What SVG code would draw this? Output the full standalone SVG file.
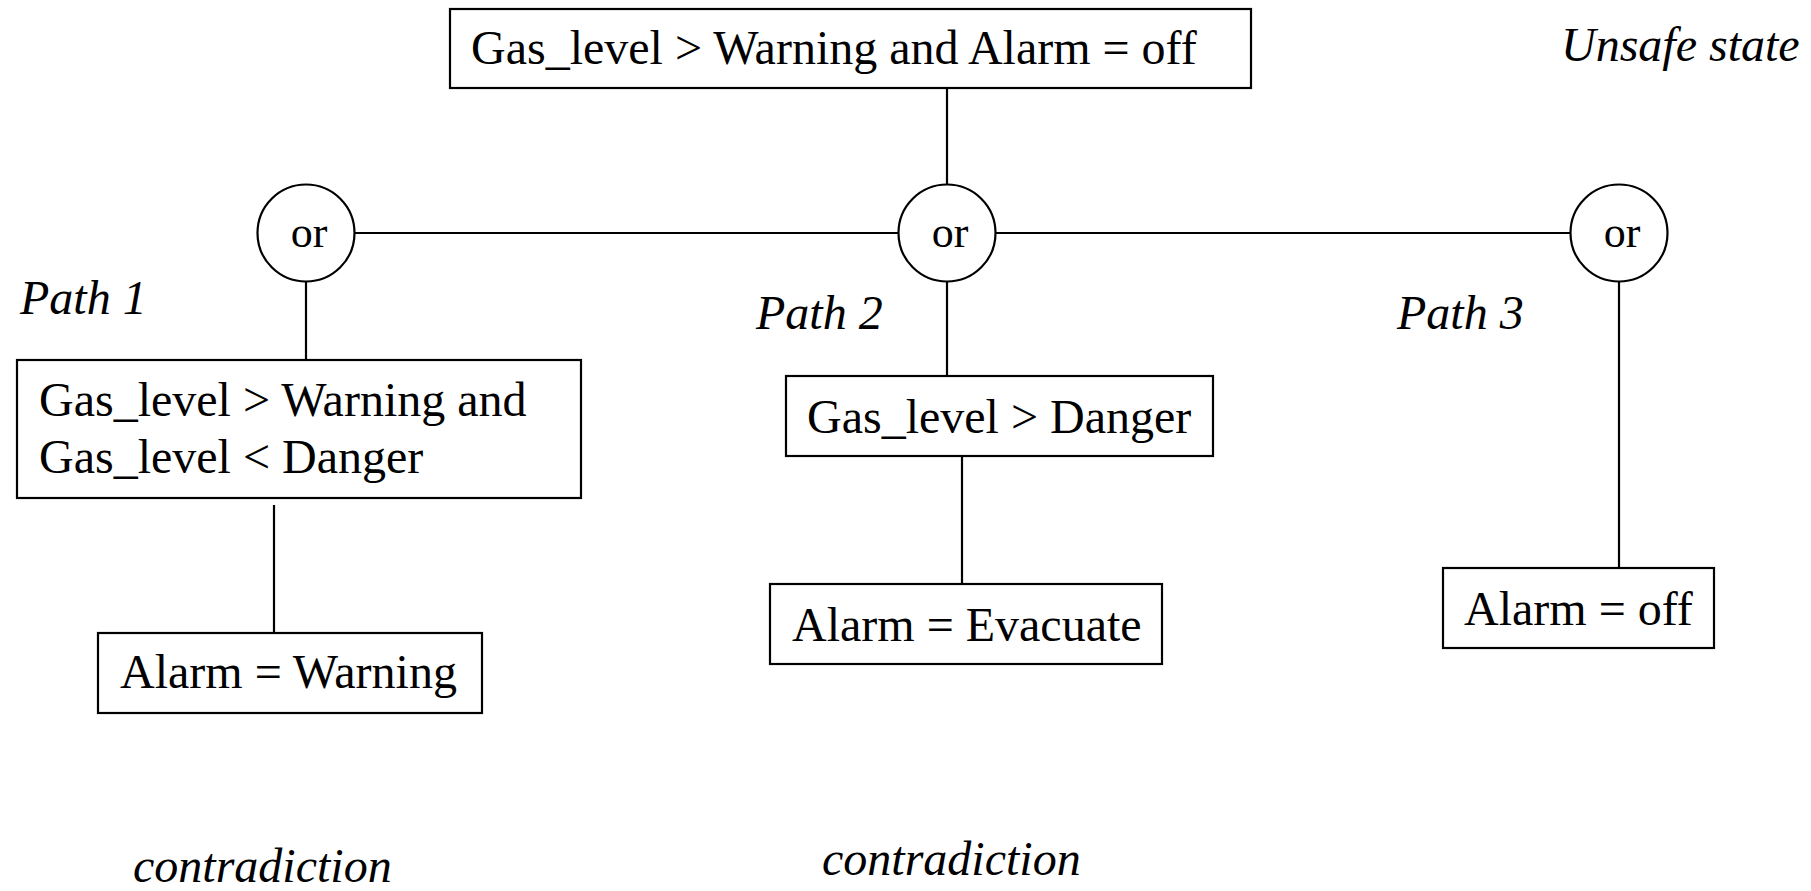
<svg xmlns="http://www.w3.org/2000/svg" width="1811" height="891" viewBox="0 0 1811 891" font-family="Liberation Serif, DejaVu Serif, serif">
  <style>
    .box { fill: #ffffff; stroke: #000000; stroke-width: 2.2; }
    .gate { fill: #ffffff; stroke: #000000; stroke-width: 2.2; }
    .wire { stroke: #000000; stroke-width: 2.2; fill: none; }
    text { font-family: 'Liberation Serif', 'DejaVu Serif', serif; fill: #000000; }
    .t { font-size: 48px; }
    .it { font-size: 48px; font-style: italic; }
    .or { font-size: 44px; text-anchor: middle; }
  </style>
  <rect width="1811" height="891" fill="#ffffff"/>

  <!-- connectors -->
  <g id="connectors">
    <line class="wire" x1="947" y1="88" x2="947" y2="185"/>
    <line class="wire" x1="355" y1="233" x2="899" y2="233"/>
    <line class="wire" x1="996" y1="233" x2="1571" y2="233"/>
    <line class="wire" x1="306" y1="282" x2="306" y2="360"/>
    <line class="wire" x1="274" y1="505" x2="274" y2="633"/>
    <line class="wire" x1="947" y1="282" x2="947" y2="376"/>
    <line class="wire" x1="962" y1="456" x2="962" y2="584"/>
    <line class="wire" x1="1619" y1="282" x2="1619" y2="568"/>
  </g>

  <!-- top event -->
  <g id="top">
    <rect class="box" x="450" y="9" width="801" height="79"/>
    <text class="t" x="471" y="64">Gas_level &gt; Warning and Alarm = off</text>
  </g>
  <g id="unsafe-label">
    <text class="it" x="1561" y="61">Unsafe state</text>
  </g>

  <!-- or gates -->
  <g id="or1">
    <circle class="gate" cx="306" cy="233" r="48.5"/>
    <text class="or" x="309" y="247">or</text>
  </g>
  <g id="or2">
    <circle class="gate" cx="947" cy="233" r="48.5"/>
    <text class="or" x="950" y="247">or</text>
  </g>
  <g id="or3">
    <circle class="gate" cx="1619" cy="233" r="48.5"/>
    <text class="or" x="1622" y="247">or</text>
  </g>

  <!-- path 1 -->
  <g id="path1-label">
    <text class="it" x="20" y="314">Path 1</text>
  </g>
  <g id="cond1">
    <rect class="box" x="17" y="360" width="564" height="138"/>
    <text class="t" x="39" y="416">Gas_level &gt; Warning and</text>
    <text class="t" x="39" y="473">Gas_level &lt; Danger</text>
  </g>
  <g id="alarm-warning">
    <rect class="box" x="98" y="633" width="384" height="80"/>
    <text class="t" x="120" y="688">Alarm = Warning</text>
  </g>
  <g id="contradiction1">
    <text class="it" x="133" y="882">contradiction</text>
  </g>

  <!-- path 2 -->
  <g id="path2-label">
    <text class="it" x="756" y="329">Path 2</text>
  </g>
  <g id="cond2">
    <rect class="box" x="786" y="376" width="427" height="80"/>
    <text class="t" x="807" y="433">Gas_level &gt; Danger</text>
  </g>
  <g id="alarm-evacuate">
    <rect class="box" x="770" y="584" width="392" height="80"/>
    <text class="t" x="792" y="641">Alarm = Evacuate</text>
  </g>
  <g id="contradiction2">
    <text class="it" x="822" y="875">contradiction</text>
  </g>

  <!-- path 3 -->
  <g id="path3-label">
    <text class="it" x="1397" y="329">Path 3</text>
  </g>
  <g id="alarm-off">
    <rect class="box" x="1443" y="568" width="271" height="80"/>
    <text class="t" x="1464" y="625">Alarm = off</text>
  </g>
</svg>
